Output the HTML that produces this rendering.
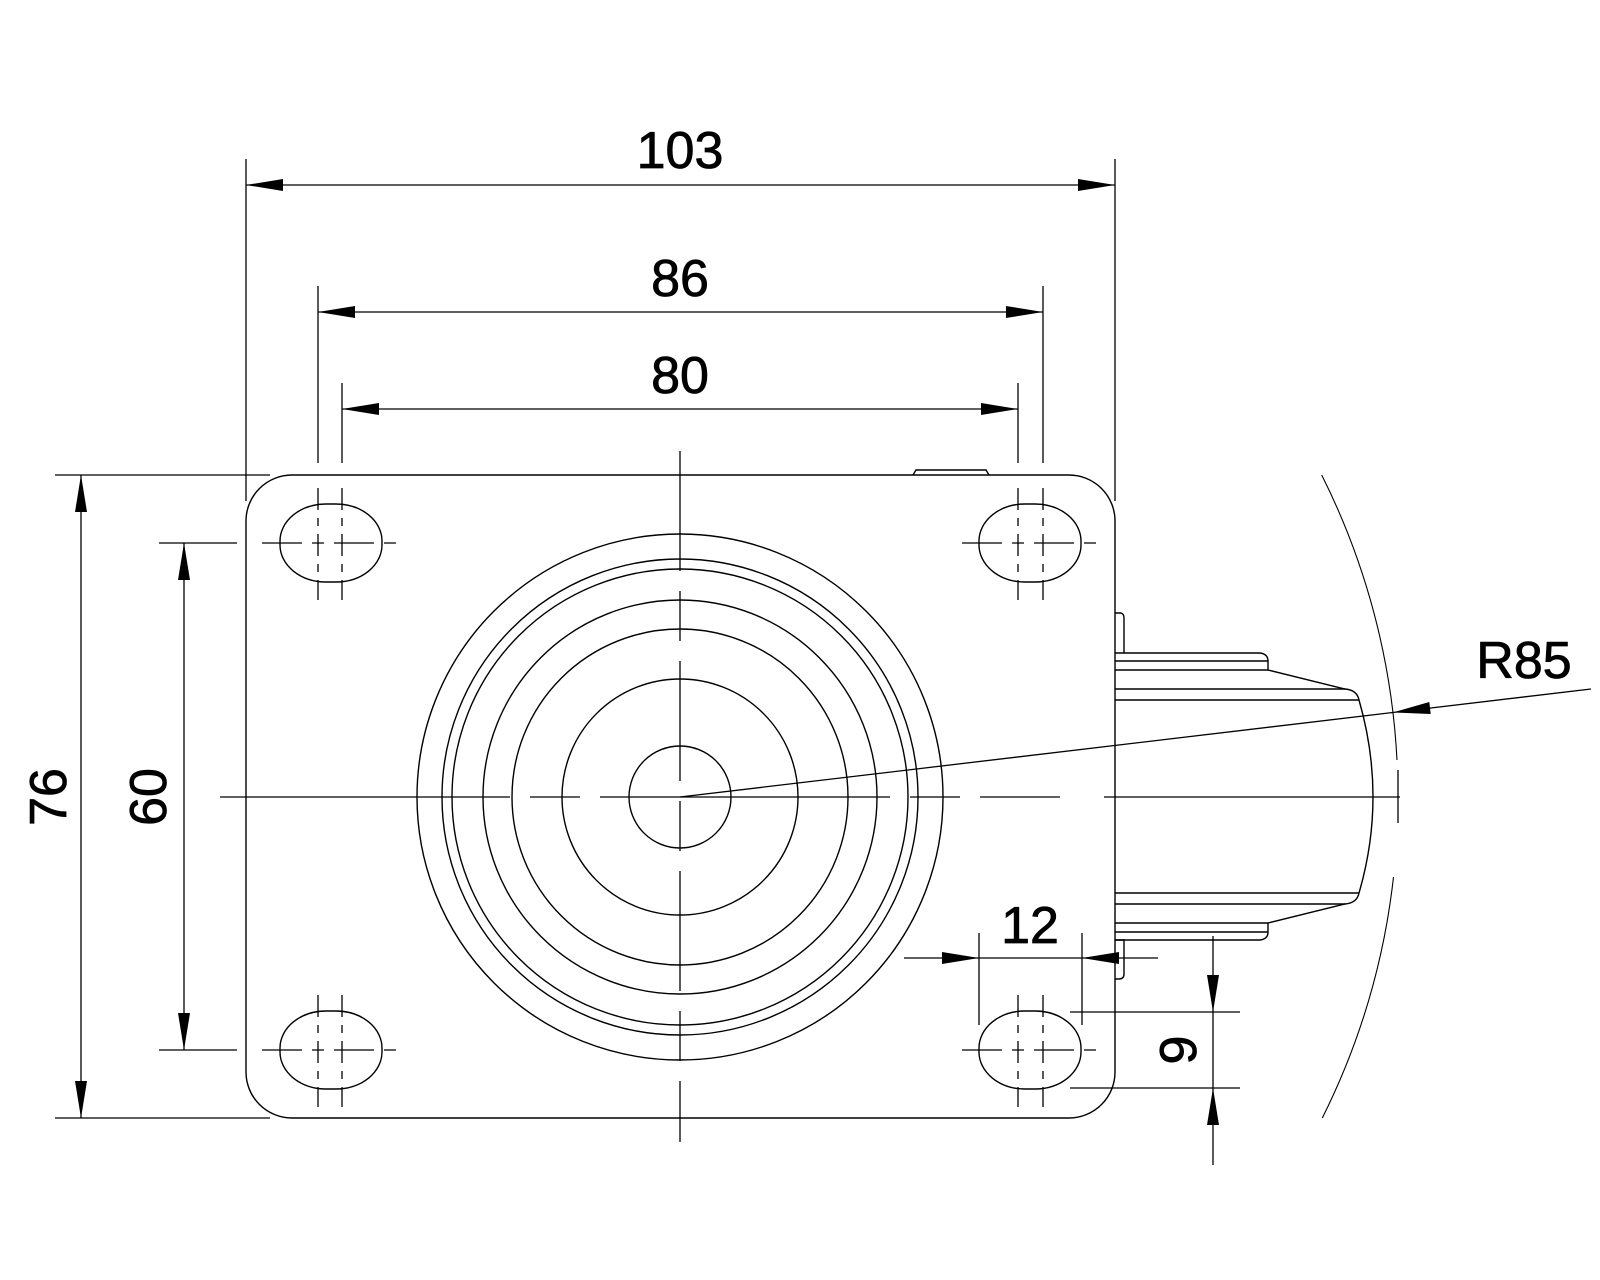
<!DOCTYPE html>
<html><head><meta charset="utf-8"><style>html,body{margin:0;padding:0;background:#fff}svg{display:block}</style></head>
<body>
<svg width="1600" height="1280" viewBox="0 0 1600 1280" xmlns="http://www.w3.org/2000/svg">
<g fill="none" stroke="#000" stroke-width="1.4">
<rect x="246" y="475" width="869" height="643" rx="46" ry="46"/>
<path d="M913 475 L916 470 L986 470 L989 475"/>
<rect x="280" y="504" width="102" height="78" rx="46" ry="37"/>
<rect x="979" y="504" width="102" height="78" rx="46" ry="37"/>
<rect x="280" y="1011" width="102" height="78" rx="46" ry="37"/>
<rect x="979" y="1011" width="102" height="78" rx="46" ry="37"/>
<circle cx="680" cy="797" r="263"/>
<circle cx="680" cy="797" r="238"/>
<circle cx="680" cy="797" r="228"/>
<circle cx="680" cy="797" r="197"/>
<circle cx="680" cy="797" r="168"/>
<circle cx="680" cy="797" r="118"/>
<circle cx="680" cy="797" r="51"/>
<path d="M1115 613 L1121 613 Q1124 614 1124 618 L1124 653"/>
<path d="M1115 653 L1260 653 Q1268 654 1268 661 L1268 670 L1115 670 M1115 661 L1268 661"/>
<path d="M1268 670 L1345 689 Q1357 690 1359 700 Q1387 797 1359 893 Q1357 903 1345 904 L1268 923"/>
<path d="M1115 689 L1345 689 M1115 700 L1359 700 M1115 893 L1359 893 M1115 904 L1345 904"/>
<path d="M1115 923 L1268 923 L1268 932 Q1268 939 1260 940 L1115 940 M1115 932 L1268 932"/>
<path d="M1115 940 L1124 940 L1124 974 Q1124 979 1119 979 L1115 979"/>
<path d="M1321.7 475 A718 718 0 0 1 1397 760" stroke-width="1.1"/>
<path d="M1393.5 877 A718 718 0 0 1 1322.3 1118" stroke-width="1.1"/>
</g>
<g fill="none" stroke="#000" stroke-width="1.3">
<line x1="220" y1="797" x2="1060" y2="797" stroke-dasharray="290 20 50 20"/>
<line x1="1104" y1="797" x2="1400" y2="797"/>
<line x1="680" y1="451" x2="680" y2="1142" stroke-dasharray="120 20 50 20"/>
<line x1="1398" y1="770" x2="1398" y2="823"/>
<line x1="262" y1="543" x2="398" y2="543" stroke-dasharray="40 10 12 10"/>
<line x1="962" y1="543" x2="1098" y2="543" stroke-dasharray="40 10 12 10"/>
<line x1="262" y1="1050" x2="398" y2="1050" stroke-dasharray="40 10 12 10"/>
<line x1="962" y1="1050" x2="1098" y2="1050" stroke-dasharray="40 10 12 10"/>
<line x1="318" y1="488" x2="318" y2="600" stroke-dasharray="22 8 8 8"/>
<line x1="342" y1="488" x2="342" y2="600" stroke-dasharray="22 8 8 8"/>
<line x1="1018" y1="488" x2="1018" y2="600" stroke-dasharray="22 8 8 8"/>
<line x1="1043" y1="488" x2="1043" y2="600" stroke-dasharray="22 8 8 8"/>
<line x1="318" y1="995" x2="318" y2="1107" stroke-dasharray="22 8 8 8"/>
<line x1="342" y1="995" x2="342" y2="1107" stroke-dasharray="22 8 8 8"/>
<line x1="1018" y1="995" x2="1018" y2="1107" stroke-dasharray="22 8 8 8"/>
<line x1="1043" y1="995" x2="1043" y2="1107" stroke-dasharray="22 8 8 8"/>
<line x1="246" y1="159" x2="246" y2="501"/>
<line x1="1115" y1="159" x2="1115" y2="501"/>
<line x1="318" y1="286" x2="318" y2="463"/>
<line x1="1043" y1="286" x2="1043" y2="463"/>
<line x1="342" y1="383" x2="342" y2="463"/>
<line x1="1018" y1="383" x2="1018" y2="463"/>
<line x1="55" y1="475" x2="270" y2="475"/>
<line x1="55" y1="1118" x2="270" y2="1118"/>
<line x1="159" y1="543" x2="237" y2="543"/>
<line x1="159" y1="1050" x2="237" y2="1050"/>
<line x1="979" y1="933" x2="979" y2="1025"/>
<line x1="1082" y1="933" x2="1082" y2="1025"/>
<line x1="1070" y1="1012" x2="1240" y2="1012"/>
<line x1="1070" y1="1088" x2="1240" y2="1088"/>
<line x1="246" y1="185" x2="1115" y2="185"/>
<line x1="318" y1="312" x2="1043" y2="312"/>
<line x1="342" y1="409" x2="1018" y2="409"/>
<line x1="81" y1="475" x2="81" y2="1118"/>
<line x1="184" y1="543" x2="184" y2="1050"/>
<line x1="904" y1="958" x2="1158" y2="958"/>
<line x1="1213" y1="936" x2="1213" y2="1165"/>
<line x1="680" y1="797" x2="1591" y2="689"/>
</g>
<g fill="#000" stroke="none">
<polygon points="246,185 283,179 283,191"/>
<polygon points="1115,185 1078,179 1078,191"/>
<polygon points="318,312 355,306 355,318"/>
<polygon points="1043,312 1006,306 1006,318"/>
<polygon points="342,409 379,403 379,415"/>
<polygon points="1018,409 981,403 981,415"/>
<polygon points="81,475 75,512 87,512"/>
<polygon points="81,1118 75,1081 87,1081"/>
<polygon points="184,543 178,580 190,580"/>
<polygon points="184,1050 178,1013 190,1013"/>
<polygon points="979,958 942,952 942,964"/>
<polygon points="1082,958 1119,952 1119,964"/>
<polygon points="1213,1012 1207,975 1219,975"/>
<polygon points="1213,1088 1207,1125 1219,1125"/>
<polygon points="1393,712.4 1430.7,714 1429.3,702"/>
</g>
<g font-family="'Liberation Sans', sans-serif" font-size="52" fill="#000" stroke="#000" stroke-width="0.8" text-anchor="middle">
<text x="680" y="168">103</text>
<text x="680" y="296">86</text>
<text x="680" y="393">80</text>
<text x="1030" y="943">12</text>
<text x="1524" y="678">R85</text>
<text transform="translate(66,797) rotate(-90)">76</text>
<text transform="translate(166,797) rotate(-90)">60</text>
<text transform="translate(1196,1050) rotate(-90)">9</text>
</g>
</svg>
</body></html>
